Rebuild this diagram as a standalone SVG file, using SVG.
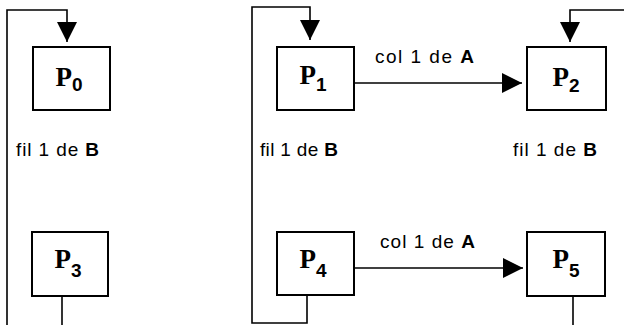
<svg xmlns="http://www.w3.org/2000/svg" width="624" height="325" viewBox="0 0 624 325">
<style>
.box{fill:#fff;stroke:#000;stroke-width:2}
.ln{fill:none;stroke:#000;stroke-width:1.6}
.p{font-family:"Liberation Serif",serif;font-weight:bold;font-size:27px}
.s{font-family:"Liberation Sans",sans-serif;font-weight:bold;font-size:19px}
.lbl{font-family:"Liberation Sans",Arial,sans-serif;font-size:19px;fill:#000}
.b{font-weight:bold}
</style>
<defs>
<marker id="ah" viewBox="0 0 20 20" refX="20" refY="10" markerWidth="20" markerHeight="20" markerUnits="userSpaceOnUse" orient="auto">
<path d="M0,0 L20,10 L0,20 Z" fill="#000"/>
</marker>
</defs>
<g id="connectors">
<path class="ln" d="M7,325 V10 H67 V42" marker-end="url(#ah)"/>
<path class="ln" d="M62,296 V325"/>
<path class="ln" d="M307,292 V323 H252 V7 H310 V40" marker-end="url(#ah)"/>
<path class="ln" d="M624,10 H570 V42" marker-end="url(#ah)"/>
<path class="ln" d="M573,296 V325"/>
<path class="ln" d="M354,83 H522" marker-end="url(#ah)"/>
<path class="ln" d="M354,268 H523" marker-end="url(#ah)"/>
</g>
<g id="labels">
<text class="lbl" x="375" y="63" textLength="99" lengthAdjust="spacing">col 1 de <tspan class="b">A</tspan></text>
<text class="lbl" x="380" y="248" textLength="95" lengthAdjust="spacing">col 1 de <tspan class="b">A</tspan></text>
<text class="lbl" x="16" y="156" textLength="83" lengthAdjust="spacing">fil 1 de <tspan class="b">B</tspan></text>
<text class="lbl" x="260" y="156" textLength="78" lengthAdjust="spacing">fil 1 de <tspan class="b">B</tspan></text>
<text class="lbl" x="513" y="156" textLength="84" lengthAdjust="spacing">fil 1 de <tspan class="b">B</tspan></text>
</g>
<g id="P0">
<rect class="box" x="33" y="47" width="77" height="63"/>
<text x="69" y="86" text-anchor="middle"><tspan class="p">P</tspan><tspan class="s" dy="5">0</tspan></text>
</g>
<g id="P1">
<rect class="box" x="277" y="47" width="77" height="63"/>
<text x="313" y="84" text-anchor="middle"><tspan class="p">P</tspan><tspan class="s" dy="7">1</tspan></text>
</g>
<g id="P2">
<rect class="box" x="527" y="47" width="79" height="63"/>
<text x="566" y="86" text-anchor="middle"><tspan class="p">P</tspan><tspan class="s" dy="6">2</tspan></text>
</g>
<g id="P3">
<rect class="box" x="32" y="232" width="76" height="64"/>
<text x="68" y="268" text-anchor="middle"><tspan class="p">P</tspan><tspan class="s" dy="9">3</tspan></text>
</g>
<g id="P4">
<rect class="box" x="277" y="232" width="77" height="63"/>
<text x="313" y="268" text-anchor="middle"><tspan class="p">P</tspan><tspan class="s" dy="9">4</tspan></text>
</g>
<g id="P5">
<rect class="box" x="527" y="232" width="78" height="64"/>
<text x="566" y="268" text-anchor="middle"><tspan class="p">P</tspan><tspan class="s" dy="9">5</tspan></text>
</g>
</svg>
